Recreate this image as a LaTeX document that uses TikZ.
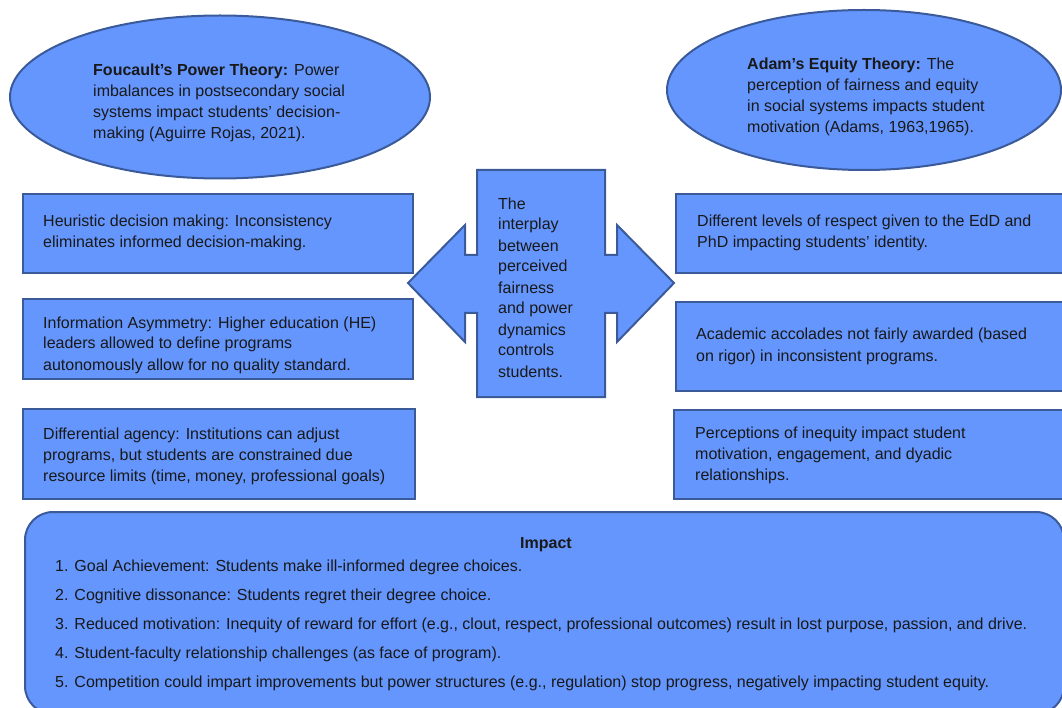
\documentclass[tikz,border=0pt]{standalone}
\usepackage{fontspec}
\setmainfont{Liberation Sans}
\usepackage{tikz}
\usetikzlibrary{shapes,positioning}
\definecolor{boxfill}{HTML}{6496FE}
\definecolor{boxline}{HTML}{3A5A9A}

\begin{document}
\begin{tikzpicture}[x=1pt,y=-1pt,
  panel/.style={draw=boxline,fill=boxfill,line width=2pt},
  oval/.style={panel,ellipse,inner sep=0pt},
  box/.style={panel,rectangle,anchor=north west,inner sep=0pt},
  txt/.style={anchor=base west,align=left,inner sep=0pt,text=black!90,font=\fontsize{16}{21}\selectfont}]
\useasboundingbox (0,0) rectangle (1062,708);
%%%%% theories (text placed at baseline of last line):
\node[oval,minimum width=420pt,minimum height=163pt] (foucault) at (220,97) {};
\node[oval,minimum width=394pt,minimum height=160pt] (adams) at (864,90) {};
\node[txt] (foucaulttxt) at (93,139) {\textbf{Foucault’s Power Theory:} Power\\imbalances in postsecondary social\\systems impact students’ decision-\\making (Aguirre Rojas, 2021).};
\node[txt] (adamstxt) at (747,133) {\textbf{Adam’s Equity Theory:} The\\perception of fairness and equity\\in social systems impacts student\\motivation (Adams, 1963,1965).};
%%%%% left column:
\node[box,minimum width=390pt,minimum height=79pt] (heur) at (22,193) {};
\node[box,minimum width=390pt,minimum height=80pt] (asym) at (22,298) {};
\node[box,minimum width=392pt,minimum height=90pt] (agency) at (22,408) {};
\node[txt] (heurtxt) at (43,248) {Heuristic decision making: Inconsistency\\eliminates informed decision-making.};
\node[txt] (asymtxt) at (43,370) {Information Asymmetry: Higher education (HE)\\leaders allowed to define programs\\autonomously allow for no quality standard.};
\node[txt] (agencytxt) at (43,481) {Differential agency: Institutions can adjust\\programs, but students are constrained due\\resource limits (time, money, professional goals)};
%%%%% right column:
\node[box,minimum width=388pt,minimum height=79pt] (respect) at (675,193) {};
\node[box,minimum width=388pt,minimum height=89pt] (accolade) at (675,301) {};
\node[box,minimum width=390pt,minimum height=89pt] (inequity) at (673,409) {};
\node[txt] (respecttxt) at (697,248) {Different levels of respect given to the EdD and\\PhD impacting students’ identity.};
\node[txt] (accoladetxt) at (696,361) {Academic accolades not fairly awarded (based\\on rigor) in inconsistent programs.};
\node[txt] (inequitytxt) at (695,480) {Perceptions of inequity impact student\\motivation, engagement, and dyadic\\relationships.};
%%%%% double arrow:
\draw[panel] (477,170) -- (605,170) -- (605,255) -- (617,255) -- (617,225) -- (674,283)
  -- (617,342) -- (617,313) -- (605,313) -- (605,397) -- (477,397) -- (477,313)
  -- (465,313) -- (465,342) -- (408,283) -- (465,225) -- (465,255) -- (477,255) -- cycle;
\node[txt] (interplay) at (498,377) {The\\interplay\\between\\perceived\\fairness\\and power\\dynamics\\controls\\students.};
%%%%% impact:
\draw[panel,rounded corners=28pt] (25,512) rectangle (1064,714);
\node[txt,anchor=base,font=\bfseries\fontsize{16}{21}\selectfont] (impact) at (546,548) {Impact};
\node[txt,font=\fontsize{16}{29}\selectfont] (impactlist) at (55,687) {1. Goal Achievement: Students make ill-informed degree choices.\\2. Cognitive dissonance: Students regret their degree choice.\\3. Reduced motivation: Inequity of reward for effort (e.g., clout, respect, professional outcomes) result in lost purpose, passion, and drive.\\4. Student-faculty relationship challenges (as face of program).\\5. Competition could impart improvements but power structures (e.g., regulation) stop progress, negatively impacting student equity.};
\end{tikzpicture}
\end{document}
